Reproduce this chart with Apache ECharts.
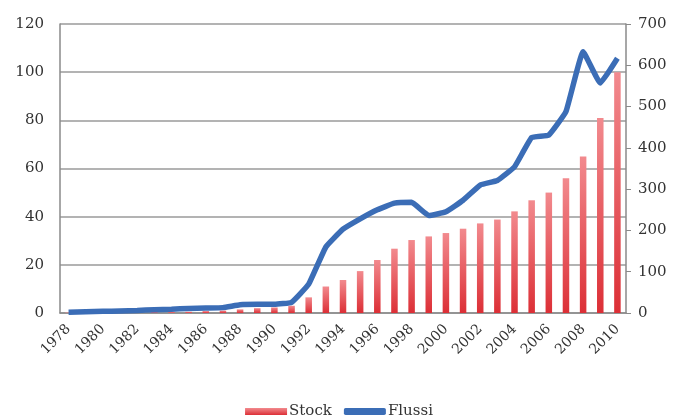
<!DOCTYPE html>
<html><head><meta charset="utf-8">
<script src="https://cdn.jsdelivr.net/npm/echarts@6/dist/echarts.min.js"></script>
<style>html,body{margin:0;padding:0;background:#fff}#c{width:678px;height:417px}</style>
</head><body><div id="c"></div>
<script>
const years = ['1978','1979','1980','1981','1982','1983','1984','1985','1986','1987','1988','1989','1990','1991','1992','1993','1994','1995','1996','1997','1998','1999','2000','2001','2002','2003','2004','2005','2006','2007','2008','2009','2010'];
const stock = [0.2,0.2,0.2,0.3,0.3,0.4,0.4,0.5,0.8,1.0,1.5,2.0,2.3,3.0,6.5,11.0,13.7,17.4,22.0,26.7,30.3,31.8,33.2,35.0,37.2,38.8,42.2,46.8,50.0,56.0,65.0,81.0,100.0];
const flussi = [2,3,4,5,6,8,9,11,12,13,20,21,21,26,70,160,203,228,250,266,268,236,245,273,310,321,354,425,431,488,633,557,617];
const leftTicks = {min:0,max:120,interval:20};
const rightTicks = {min:0,max:700,interval:100};

const font = '"DejaVu Serif", "Liberation Serif", serif';
const chart = echarts.init(document.getElementById('c'));
chart.setOption({
  animation:false,
  backgroundColor:'#fff',
  grid:{left:60,right:52,top:24,bottom:104},
  legend:{
    bottom:-7,left:'center',itemGap:12,itemWidth:42,itemHeight:7,
    textStyle:{fontFamily:font,fontSize:15,color:'#333',padding:[0,0,0,-3]},
    data:[{name:'Stock',icon:'rect'},{name:'Flussi',icon:'roundRect',itemStyle:{color:'#3b6db6'}}]
  },
  xAxis:{
    type:'category',data:years,boundaryGap:true,
    axisLine:{lineStyle:{color:'#8a8a8a',width:1.5}},
    axisTick:{show:false},
    axisLabel:{interval:1,rotate:45,fontFamily:font,fontSize:14,color:'#333',margin:14}
  },
  yAxis:[
    {type:'value',...leftTicks,
     axisLine:{show:true,lineStyle:{color:'#8a8a8a',width:1.5}},
     axisTick:{show:false},
     axisLabel:{fontFamily:font,fontSize:15,color:'#333',margin:16},
     splitLine:{lineStyle:{color:'#9a9a9a',width:1.5}}},
    {type:'value',...rightTicks,position:'right',
     axisLine:{show:true,lineStyle:{color:'#8a8a8a',width:1.5}},
     axisTick:{show:true,length:5,lineStyle:{color:'#8a8a8a'}},
     axisLabel:{fontFamily:font,fontSize:15,color:'#333',margin:12},
     splitLine:{show:false}}
  ],
  series:[
    {name:'Stock',type:'bar',data:stock,yAxisIndex:0,barWidth:'38%',
     itemStyle:{color:new echarts.graphic.LinearGradient(0,0,0,1,[{offset:0,color:'#f28a8e'},{offset:1,color:'#dc2f36'}])}},
    {name:'Flussi',type:'line',data:flussi,yAxisIndex:1,smooth:0.1,showSymbol:false,symbol:'none',
     lineStyle:{color:'#3b6db6',width:5.5,join:'round'},itemStyle:{color:'#3b6db6'}}
  ]
});
</script></body></html>
